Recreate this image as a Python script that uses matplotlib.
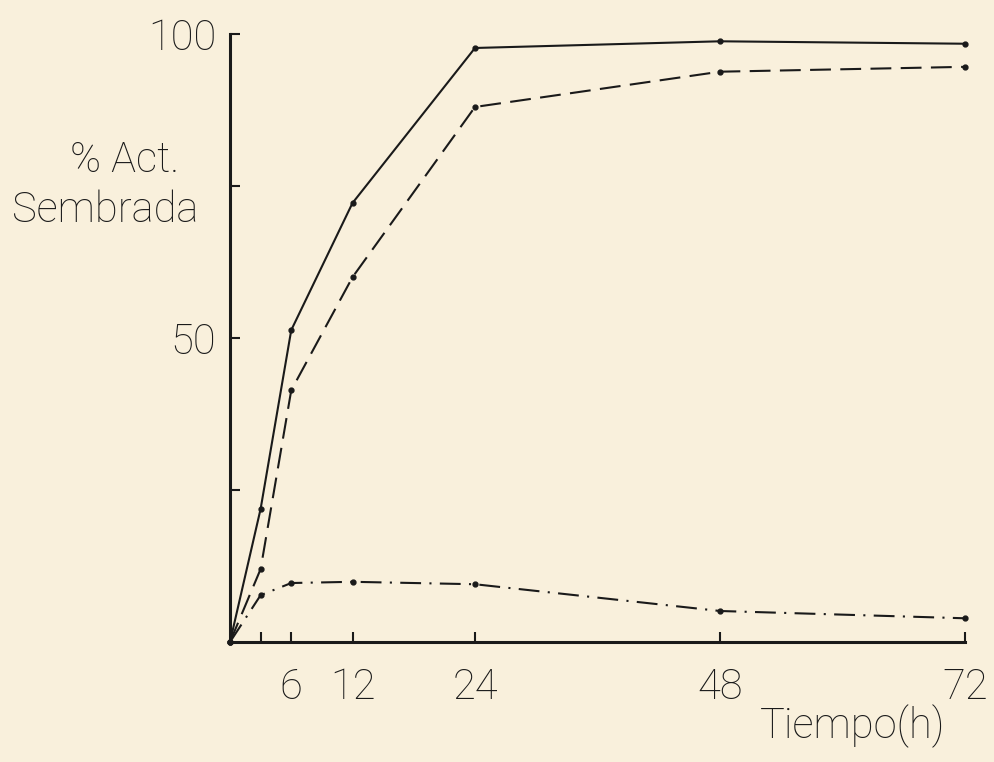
import matplotlib
matplotlib.use("Agg")
import matplotlib.pyplot as plt

# Tiempo de incubación (h) y % de actividad sembrada para las tres curvas
tiempo = [0, 3, 6, 12, 24, 48, 72]
curva_continua = [0, 21.9, 51.3, 72.2, 97.7, 98.8, 98.4]
curva_trazos = [0, 12.0, 41.4, 60.0, 88.0, 93.8, 94.6]
curva_punto_raya = [0, 7.7, 9.7, 9.9, 9.5, 5.1, 3.9]

x_ticks = [3, 6, 12, 24, 48, 72]
x_labels = ["", "6", "12", "24", "48", "72"]
y_ticks = [25, 50, 75, 100]
y_labels = ["", "50", "", "100"]

paper = "#f9f0dc"
ink = "#1a1a1a"

plt.rcParams["font.family"] = ["Roboto", "DejaVu Sans"]
plt.rcParams["font.weight"] = "light"
FS = 30

fig = plt.figure(figsize=(9.94, 7.62), dpi=100, facecolor=paper)
ax = fig.add_axes([230 / 994, 120 / 762, 735 / 994, 608 / 762])
ax.set_facecolor(paper)

kw = dict(color=ink, lw=1.5, marker="o", ms=3.5, mfc=ink, mec=ink, clip_on=False)
ax.plot(tiempo, curva_continua, ls="-", **kw)
ax.plot(tiempo, curva_trazos, ls=(0, (10, 4.5)), **kw)
ax.plot(tiempo, curva_punto_raya, ls=(0, (10, 4, 1, 4)), **kw)

ax.set_xlim(0, 72)
ax.set_ylim(0, 100)

for s in ("top", "right"):
    ax.spines[s].set_visible(False)
for s in ("left", "bottom"):
    ax.spines[s].set_linewidth(2.2)
    ax.spines[s].set_color(ink)

ax.set_xticks(x_ticks)
ax.set_xticklabels(x_labels)
ax.set_yticks(y_ticks)
ax.set_yticklabels(y_labels)
ax.tick_params(axis="both", direction="in", length=7, width=1.5, color=ink,
               labelsize=FS, labelcolor=ink)
ax.tick_params(axis="x", pad=18)
ax.tick_params(axis="y", pad=10)

fig.text(125 / 994, 1 - 160 / 762, "% Act.", ha="center", va="center",
         fontsize=FS, color=ink)
fig.text(105 / 994, 1 - 210 / 762, "Sembrada", ha="center", va="center",
         fontsize=FS, color=ink)
fig.text(853 / 994, 1 - 726 / 762, "Tiempo(h)", ha="center", va="center",
         fontsize=FS, color=ink)

fig.savefig("out.png", dpi=100, facecolor=paper)
